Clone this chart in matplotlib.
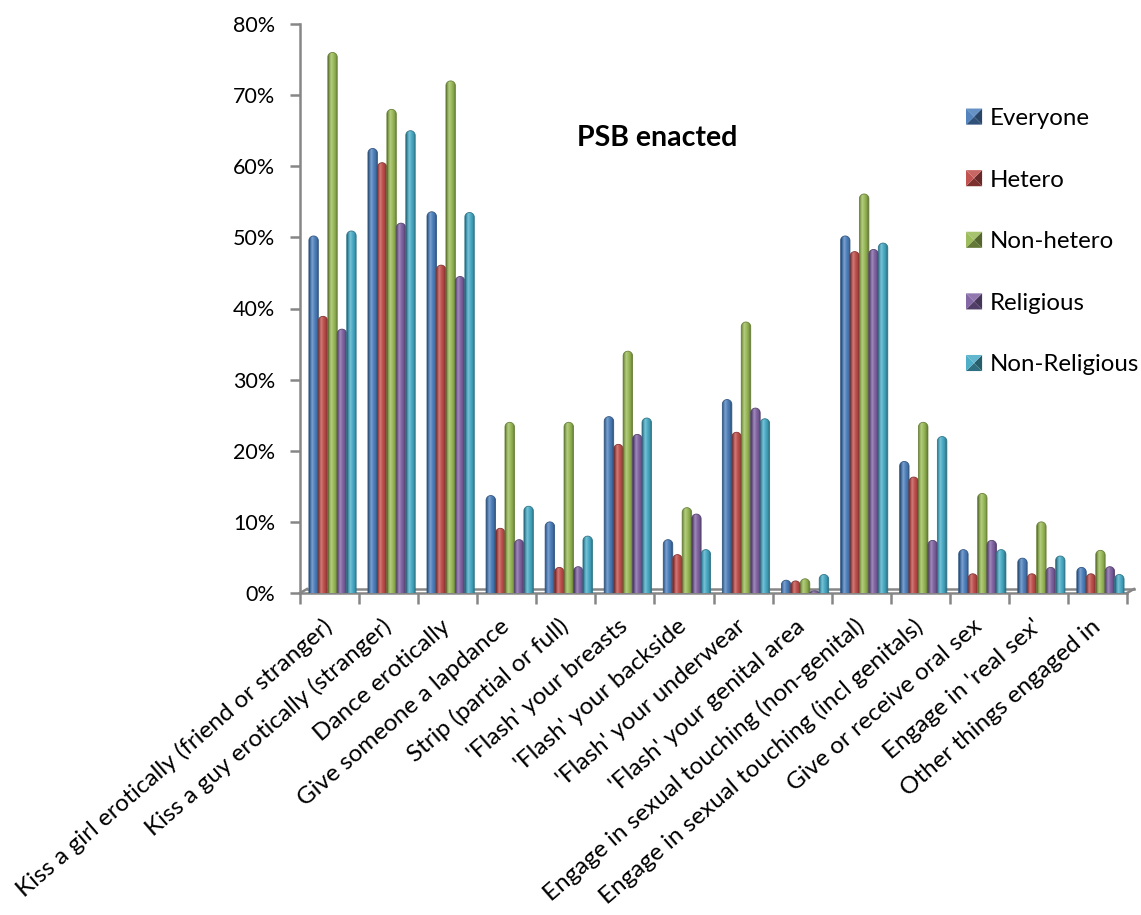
import numpy as np
import matplotlib
matplotlib.use("Agg")
import matplotlib.pyplot as plt
from matplotlib.path import Path
from matplotlib.patches import PathPatch, Polygon
from matplotlib.colors import to_rgb
from matplotlib.legend_handler import HandlerBase
from matplotlib.lines import Line2D
import matplotlib.transforms as mtransforms

plt.rcParams['font.family'] = ['Lato', 'DejaVu Sans']

categories = [
    "Kiss a girl erotically (friend or stranger)",
    "Kiss a guy erotically (stranger)",
    "Dance erotically",
    "Give someone a lapdance",
    "Strip (partial or full)",
    "'Flash' your breasts",
    "'Flash' your backside",
    "'Flash' your underwear",
    "'Flash' your genital area",
    "Engage in sexual touching (non-genital)",
    "Engage in sexual touching (incl genitals)",
    "Give or receive oral sex",
    "Engage in 'real sex'",
    "Other things engaged in",
]

series_names = ["Everyone", "Hetero", "Non-hetero", "Religious", "Non-Religious"]

everyone = [50.2, 62.5, 53.6, 13.7, 10.0, 24.8, 7.5, 27.2, 1.8, 50.2, 18.5, 6.1, 4.9, 3.6]
hetero = [38.9, 60.5, 46.1, 9.1, 3.6, 20.9, 5.4, 22.6, 1.7, 48.0, 16.3, 2.7, 2.7, 2.7]
non_hetero = [76.0, 68.0, 72.0, 24.0, 24.0, 34.0, 12.0, 38.1, 2.0, 56.1, 24.0, 14.0, 10.0, 6.0]
religious = [37.1, 52.0, 44.5, 7.5, 3.7, 22.3, 11.1, 26.0, 0.3, 48.3, 7.4, 7.4, 3.6, 3.7]
non_religious = [50.9, 65.0, 53.5, 12.2, 8.0, 24.6, 6.1, 24.5, 2.6, 49.2, 22.0, 6.1, 5.2, 2.6]

series_values = [everyone, hetero, non_hetero, religious, non_religious]
series_colors = ["#4A7EBB", "#BE4B48", "#98B954", "#7D60A0", "#46AAC5"]

y_ticks = [0, 10, 20, 30, 40, 50, 60, 70, 80]
y_tick_labels = ["0%", "10%", "20%", "30%", "40%", "50%", "60%", "70%", "80%"]

AXIS_GRAY = "#868686"


def mix(c, other, t):
    c = np.array(to_rgb(c))
    o = np.array(to_rgb(other))
    return tuple(c * (1 - t) + o * t)


def cylinder_gradient(color, n=64):
    # left rim dark -> highlight -> body -> dark right rim
    stops = [(0.0, mix(color, "black", 0.45)),
             (0.12, mix(color, "black", 0.15)),
             (0.32, mix(color, "white", 0.28)),
             (0.55, mix(color, "white", 0.04)),
             (0.82, mix(color, "black", 0.15)),
             (1.0, mix(color, "black", 0.50))]
    xs = np.linspace(0, 1, n)
    pos = [s[0] for s in stops]
    cols = np.array([s[1] for s in stops])
    rgb = np.stack([np.interp(xs, pos, cols[:, k]) for k in range(3)], axis=1)
    return rgb[np.newaxis, :, :]


fig = plt.figure(figsize=(11.41, 9.15), dpi=100)
ax = fig.add_axes([300 / 1141, 1 - 593 / 915, 827 / 1141, 569 / 915])

n_cat = len(categories)
n_ser = len(series_names)
x = np.arange(n_cat)
bar_w = 0.16
shift = 0.05
ax.set_xlim(-0.5, n_cat - 0.5)
ax.set_ylim(0, 80)

# pixel scales for the rounded cylinder caps
ax_w_px = 827
ax_h_px = 569
px_per_x = ax_w_px / n_cat
px_per_y = ax_h_px / 80.0

for i, (vals, col) in enumerate(zip(series_values, series_colors)):
    offs = (i - (n_ser - 1) / 2) * bar_w + shift
    bars = ax.bar(x + offs, vals, bar_w, color="none", edgecolor="none")
    grad = cylinder_gradient(col)
    for rect in bars.patches:
        x0 = rect.get_x()
        w = rect.get_width()
        h = rect.get_height()
        ry = (w / 2 * px_per_x) / px_per_y
        ry = min(ry, h)
        base = h - ry
        th = np.linspace(0, np.pi, 25)
        cx = x0 + w / 2
        arc = np.column_stack([cx + (w / 2) * np.cos(th), base + ry * np.sin(th)])
        verts = np.vstack([[x0, -2], [x0 + w, -2], [x0 + w, base], arc, [x0, base], [x0, -2]])
        codes = [Path.MOVETO] + [Path.LINETO] * (len(verts) - 2) + [Path.CLOSEPOLY]
        patch = PathPatch(Path(verts, codes), facecolor="none",
                          edgecolor=mix(col, "black", 0.3), linewidth=0.6, zorder=3)
        ax.add_patch(patch)
        im = ax.imshow(grad, extent=[x0, x0 + w, -2, h], aspect="auto",
                       interpolation="bilinear", zorder=2.5)
        im.set_clip_path(patch)

ax.set_xlim(-0.5, n_cat - 0.5)
ax.set_ylim(0, 80)

# axes styling
for s in ["top", "right"]:
    ax.spines[s].set_visible(False)
for s in ["left", "bottom"]:
    ax.spines[s].set_color(AXIS_GRAY)
    ax.spines[s].set_linewidth(1.8)
    ax.spines[s].set_zorder(1)

ax.set_yticks(y_ticks)
ax.set_yticklabels(y_tick_labels, fontsize=15.5)
ax.tick_params(axis="y", direction="out", length=7, width=1.8, color=AXIS_GRAY, pad=11)

ax.set_xticks(x)
ax.set_xticklabels(categories, fontsize=17.5, rotation=41, ha="right", va="center",
                   rotation_mode="anchor")
ax.tick_params(axis="x", which="major", length=0, pad=22)
ax.set_xticks(np.arange(-0.5, n_cat, 1.0), minor=True)
ax.tick_params(axis="x", which="minor", direction="out", length=8, width=1.8, color=AXIS_GRAY)

# back edge of the floor
back = mtransforms.offset_copy(ax.transData, fig=fig, x=7, y=4, units="dots")
ax.plot([-0.5, n_cat - 0.5], [0, 0], color=AXIS_GRAY, lw=1.8, transform=back,
        clip_on=False, zorder=1)
fl = ax.transData
p0 = fl.transform((-0.5, 0))
p1 = fl.transform((n_cat - 0.5, 0))
for p in (p0, p1):
    fig.add_artist(Line2D([p[0], p[0] + 7], [p[1], p[1] + 4], color=AXIS_GRAY, lw=1.8,
                          transform=None))


# pyramid-shaded legend keys
class PyramidHandler(HandlerBase):
    def create_artists(self, legend, orig_handle, xdescent, ydescent, width, height,
                       fontsize, trans):
        col = orig_handle.get_facecolor()
        s = min(width, height * 1.0)
        x0 = -xdescent + (width - s) / 2
        y0 = -ydescent + (height - s) / 2
        cx, cy = x0 + s / 2, y0 + s / 2
        corners = [(x0, y0), (x0 + s, y0), (x0 + s, y0 + s), (x0, y0 + s)]
        shades = [mix(col[:3], "black", 0.35), mix(col[:3], "black", 0.45),
                  mix(col[:3], "white", 0.15), mix(col[:3], "white", 0.05)]
        arts = []
        for k in range(4):
            a = corners[k]
            b = corners[(k + 1) % 4]
            tri = Polygon([a, b, (cx, cy)], closed=True, facecolor=shades[k],
                          edgecolor="none", transform=trans)
            arts.append(tri)
        return arts


handles = [matplotlib.patches.Patch(facecolor=c) for c in series_colors]
leg = fig.legend(handles, series_names, loc="upper left",
                 bbox_to_anchor=(966 / 1141, 1 - 108 / 915), frameon=False,
                 fontsize=17.3, handler_map={matplotlib.patches.Patch: PyramidHandler()},
                 handlelength=0.67, handleheight=0.67, handletextpad=0.33,
                 labelspacing=1.69, borderpad=0, borderaxespad=0)

fig.text(657 / 1141, 1 - 138 / 915, "PSB enacted", ha="center", va="center",
         fontsize=20.5, fontweight="bold")

fig.savefig("out.png", dpi=100)
